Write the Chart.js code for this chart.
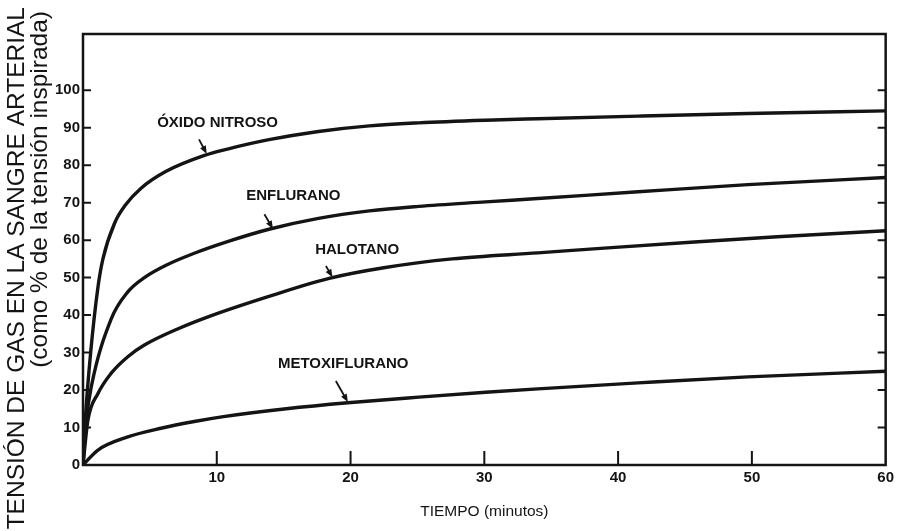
<!DOCTYPE html>
<html>
<head>
<meta charset="utf-8">
<script src="https://cdn.jsdelivr.net/npm/chart.js@4.4.0/dist/chart.umd.min.js"></script>
<style>
html,body{margin:0;padding:0;background:#ffffff;}
#wrap{width:898px;height:531px;position:relative;}
</style>
</head>
<body>
<div id="wrap"><canvas id="c" width="898" height="531"></canvas></div>
<script>
// ---- data ----
const seriesNames = ['ÓXIDO NITROSO', 'ENFLURANO', 'HALOTANO', 'METOXIFLURANO'];

const oxidoX = [0, 0.17, 0.57, 1.12, 1.49, 2.36, 3.2, 4.32, 6.18, 9.08, 10.8, 13.9, 17.6, 21.4, 25.1, 30.1, 34, 41.5, 49.7, 60];
const oxidoY = [0, 12, 29.9, 47.5, 55.0, 64.5, 69.5, 73.8, 78.3, 82.6, 84.3, 86.8, 89.0, 90.5, 91.3, 92.0, 92.4, 93.1, 93.8, 94.5];

const enfluX = [0, 0.25, 0.62, 2.11, 3.35, 4.59, 6.33, 8.32, 10.8, 13.9, 17.6, 21.4, 25.1, 30.1, 34, 41.5, 49.7, 60];
const enfluY = [0, 12, 20.9, 39.0, 46.2, 50.0, 53.5, 56.5, 59.6, 62.9, 65.8, 67.8, 69.0, 70.2, 71.1, 72.9, 74.8, 76.7];

const haloX = [0, 0.37, 1.12, 2.11, 3.35, 4.59, 7.07, 9.55, 13.9, 18.4, 22.6, 27.6, 34, 39.5, 45.7, 51.9, 60];
const haloY = [0, 12, 19.1, 24.5, 28.9, 32.0, 36.3, 39.8, 45.0, 49.8, 52.7, 55.0, 56.6, 58.0, 59.5, 60.9, 62.5];

const metoX = [0, 1.12, 3.35, 5.83, 8.32, 10.5, 15.2, 19.8, 25.1, 30.1, 34, 41.5, 49.7, 60];
const metoY = [0, 4.0, 7.5, 9.8, 11.6, 12.9, 15.0, 16.6, 18.1, 19.4, 20.3, 21.9, 23.5, 25.0];

const xTicks = [10, 20, 30, 40, 50, 60];
const yTicks = [0, 10, 20, 30, 40, 50, 60, 70, 80, 90, 100];

const yTitleLines = ['TENSIÓN DE GAS EN LA SANGRE ARTERIAL', '(como % de la tensión inspirada)'];
const xTitle = 'TIEMPO (minutos)';

// ---- build chart ----
const FONT = "'Liberation Sans', Arial, Helvetica, sans-serif";
const INK = '#141414';

function pts(xs, ys) { return xs.map((x, i) => ({ x: x, y: ys[i] })); }

const seriesData = [pts(oxidoX, oxidoY), pts(enfluX, enfluY), pts(haloX, haloY), pts(metoX, metoY)];

// label anchors (in data units) and arrow start/end (in data units)
const labelPlacement = [
  { tx: 10.06, ty: 91.2, a: [8.67, 86.9, 9.25, 83.0] },
  { tx: 15.72, ty: 71.8, a: [13.56, 66.9, 14.2, 63.0] },
  { tx: 20.49, ty: 57.4, a: [18.16, 53.1, 18.65, 50.1] },
  { tx: 19.45, ty: 26.9, a: [18.9, 22.4, 19.8, 16.8] }
];

const framePlugin = {
  id: 'framePlugin',
  afterDraw(chart) {
    const ctx = chart.ctx;
    const xs = chart.scales.x, ys = chart.scales.y;
    const a = chart.chartArea;
    ctx.save();
    ctx.strokeStyle = INK;
    ctx.fillStyle = INK;
    // frame
    ctx.lineWidth = 2.5;
    ctx.strokeRect(a.left, a.top, a.right - a.left, a.bottom - a.top);
    // inward ticks
    ctx.lineWidth = 2;
    ctx.beginPath();
    yTicks.forEach(v => {
      if (v <= 0) return;
      const py = ys.getPixelForValue(v);
      ctx.moveTo(a.left, py); ctx.lineTo(a.left + 8, py);
      ctx.moveTo(a.right, py); ctx.lineTo(a.right - 8, py);
    });
    xTicks.forEach(v => {
      if (v >= 60) return;
      const px = xs.getPixelForValue(v);
      ctx.moveTo(px, a.bottom); ctx.lineTo(px, a.bottom - 14);
    });
    ctx.stroke();

    // series labels + arrows
    ctx.font = 'bold 15px ' + FONT;
    ctx.textAlign = 'center';
    ctx.textBaseline = 'middle';
    labelPlacement.forEach((p, i) => {
      ctx.fillText(seriesNames[i], xs.getPixelForValue(p.tx), ys.getPixelForValue(p.ty));
      const x1 = xs.getPixelForValue(p.a[0]), y1 = ys.getPixelForValue(p.a[1]);
      const x2 = xs.getPixelForValue(p.a[2]), y2 = ys.getPixelForValue(p.a[3]);
      const ang = Math.atan2(y2 - y1, x2 - x1);
      ctx.lineWidth = 1.8;
      ctx.beginPath(); ctx.moveTo(x1, y1); ctx.lineTo(x2 - 5 * Math.cos(ang), y2 - 5 * Math.sin(ang)); ctx.stroke();
      ctx.beginPath();
      ctx.moveTo(x2, y2);
      ctx.lineTo(x2 - 8 * Math.cos(ang) + 3.2 * Math.sin(ang), y2 - 8 * Math.sin(ang) - 3.2 * Math.cos(ang));
      ctx.lineTo(x2 - 8 * Math.cos(ang) - 3.2 * Math.sin(ang), y2 - 8 * Math.sin(ang) + 3.2 * Math.cos(ang));
      ctx.closePath(); ctx.fill();
    });

    // axis titles
    ctx.font = '24.5px ' + FONT;
    ctx.textAlign = 'right';
    ctx.textBaseline = 'middle';
    [[17, 7], [40, 11]].forEach((pos, i) => {
      ctx.save();
      ctx.translate(pos[0], pos[1]);
      ctx.rotate(-Math.PI / 2);
      ctx.fillText(yTitleLines[i], 0, 0);
      ctx.restore();
    });
    ctx.font = '15.5px ' + FONT;
    ctx.textAlign = 'center';
    ctx.fillText(xTitle, (a.left + a.right) / 2, 512);
    ctx.restore();
  }
};

new Chart(document.getElementById('c'), {
  type: 'line',
  data: {
    datasets: seriesData.map((d, i) => ({
      label: seriesNames[i],
      data: d,
      borderColor: INK,
      borderWidth: 3.4,
      pointRadius: 0,
      fill: false,
      cubicInterpolationMode: 'monotone',
      borderCapStyle: 'round',
      borderJoinStyle: 'round'
    }))
  },
  options: {
    responsive: false,
    animation: false,
    devicePixelRatio: 1,
    layout: { padding: { left: 53, right: 10, top: 34, bottom: 0 } },
    plugins: { legend: { display: false }, tooltip: { enabled: false }, title: { display: false } },
    scales: {
      x: {
        type: 'linear',
        position: 'bottom',
        min: 0, max: 60,
        afterBuildTicks: s => { s.ticks = xTicks.map(v => ({ value: v })); },
        afterFit: s => { s.height = 66; },
        grid: { display: false, drawTicks: false, tickLength: 0 },
        border: { display: false },
        ticks: { color: INK, padding: 4, maxRotation: 0, autoSkip: false, font: { family: FONT, size: 15, weight: 'bold' } }
      },
      y: {
        type: 'linear',
        position: 'left',
        min: 0, max: 115,
        afterBuildTicks: s => { s.ticks = yTicks.map(v => ({ value: v })); },
        afterFit: s => { s.width = 30; },
        grid: { display: false, drawTicks: false, tickLength: 0 },
        border: { display: false },
        ticks: { color: INK, padding: 3, autoSkip: false, font: { family: FONT, size: 15, weight: 'bold' } }
      }
    }
  },
  plugins: [framePlugin]
});
</script>
</body>
</html>
